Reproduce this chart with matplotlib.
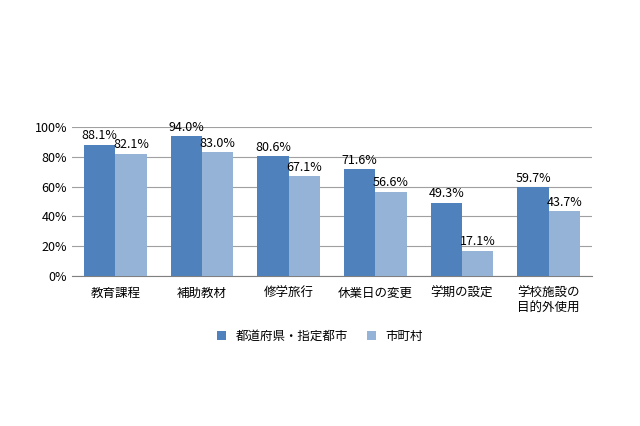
import matplotlib
matplotlib.use("Agg")
import matplotlib.pyplot as plt
import numpy as np

plt.rcParams['font.family'] = ['Noto Sans CJK JP', 'DejaVu Sans']

categories = ["教育課程", "補助教材", "修学旅行", "休業日の変更", "学期の設定", "学校施設の\n目的外使用"]
pref = [88.1, 94.0, 80.6, 71.6, 49.3, 59.7]
city = [82.1, 83.0, 67.1, 56.6, 17.1, 43.7]
series_names = ["都道府県・指定都市", "市町村"]

fig = plt.figure(figsize=(6.4, 4.26), dpi=100)
ax = fig.add_axes([0.1125, 0.352, 0.8125, 0.35])
x = np.arange(len(categories))
w = 0.36
b1 = ax.bar(x - w/2, pref, w, color='#4F81BD', label=series_names[0], zorder=3)
b2 = ax.bar(x + w/2, city, w, color='#95B3D7', label=series_names[1], zorder=3)
for bars, vals in ((b1, pref), (b2, city)):
    for r, v in zip(bars, vals):
        ax.text(r.get_x() + r.get_width()/2, v + 1.5, f"{v:.1f}%", ha='center', va='bottom', fontsize=9)
ax.set_ylim(0, 100)
ax.set_xlim(-0.5, len(categories) - 0.5)
ax.set_yticks(range(0, 101, 20))
ax.set_yticklabels([f"{v}%" for v in range(0, 101, 20)], fontsize=9)
ax.set_xticks(x)
ax.set_xticklabels(categories, fontsize=9)
ax.tick_params(axis='both', length=0)
ax.tick_params(axis='x', pad=8)
ax.grid(axis='y', color='#A0A0A0', linewidth=0.8, zorder=0)
for s in ['top', 'right', 'left']:
    ax.spines[s].set_visible(False)
ax.spines['bottom'].set_color('#808080')
fig.legend(handles=[b1, b2], labels=series_names, loc='center', bbox_to_anchor=(0.5, 0.21),
           ncol=2, frameon=False, fontsize=9, handlelength=0.7, handleheight=0.7, columnspacing=1.5)
fig.savefig("out.png", dpi=100)
